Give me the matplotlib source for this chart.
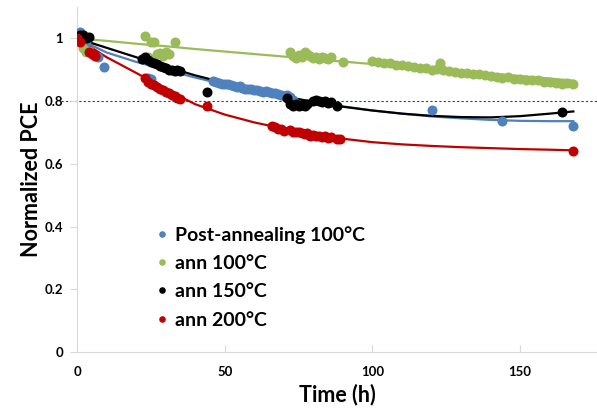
import numpy as np
import matplotlib
matplotlib.use('Agg')
import matplotlib.pyplot as plt

plt.rcParams['font.family'] = ['Lato', 'DejaVu Sans']
plt.rcParams['font.weight'] = 'bold'

# Post-annealing 100C
post_x = [0, 1, 2, 3, 7, 9, 24, 25, 46, 47, 48, 49, 50, 51, 52, 53, 54, 55, 56, 57, 58, 59,
          60, 61, 62, 63, 64, 65, 66, 67, 68, 69, 70, 71, 72, 73, 120, 144, 168]
post_y = [1.0, 1.02, 1.01, 0.99, 0.94, 0.91, 0.875, 0.87, 0.865, 0.86, 0.858, 0.855, 0.853,
          0.855, 0.85, 0.848, 0.845, 0.847, 0.842, 0.84, 0.838, 0.84, 0.835, 0.835, 0.832,
          0.83, 0.833, 0.828, 0.826, 0.825, 0.822, 0.82, 0.815, 0.818, 0.812, 0.805,
          0.773, 0.738, 0.722]

# ann 100C
a100_x = [0, 2, 3, 4, 23, 24, 25, 26, 27, 28, 29, 30, 31, 33,
          72, 73, 74, 75, 76, 77, 78, 79, 80, 81, 82, 83, 84, 85, 86, 90,
          100, 102, 104, 106, 108, 110, 112, 114, 116, 118, 120, 122, 123, 124, 126, 128,
          130, 132, 134, 136, 138, 140, 142, 144, 146, 148, 150, 152, 154, 156, 158, 160,
          162, 164, 166, 168]
a100_y = [1.0, 0.97, 0.955, 0.96, 1.007, 0.94, 0.99, 0.99, 0.95, 0.953, 0.945, 0.955, 0.95, 0.987,
          0.955, 0.945, 0.938, 0.948, 0.94, 0.955, 0.95, 0.945, 0.938, 0.942, 0.935, 0.94,
          0.938, 0.935, 0.94, 0.926,
          0.928, 0.925, 0.922, 0.92, 0.915, 0.915, 0.912, 0.908, 0.906, 0.905, 0.9, 0.902,
          0.92, 0.898, 0.895, 0.893, 0.89, 0.888, 0.885, 0.887, 0.882, 0.88, 0.878, 0.875,
          0.877, 0.872, 0.87, 0.868, 0.866, 0.868, 0.862, 0.86, 0.858, 0.855, 0.857, 0.855]

# ann 150C
a150_x = [0, 1, 2, 3, 4, 22, 23, 24, 25, 26, 27, 28, 29, 30, 31, 32, 33, 34, 35, 44,
          71, 72, 73, 74, 75, 76, 77, 78, 80, 81, 82, 83, 84, 85, 86, 88, 164]
a150_y = [1.0, 1.01, 1.01, 1.0, 1.005, 0.935, 0.94, 0.93, 0.925, 0.92, 0.918, 0.912, 0.91,
          0.905, 0.9, 0.9, 0.895, 0.9, 0.895, 0.83,
          0.81, 0.79, 0.785, 0.79, 0.785, 0.788, 0.785, 0.79, 0.8, 0.805, 0.8, 0.798, 0.8,
          0.795, 0.798, 0.785, 0.765]

# ann 200C
a200_x = [0, 1, 4, 5, 6, 23, 24, 25, 26, 27, 28, 29, 30, 31, 32, 33, 34, 35, 44,
          66, 67, 68, 69, 70, 72, 73, 74, 75, 76, 77, 78, 79, 80, 81, 82, 83, 84, 85, 86, 88, 89, 168]
a200_y = [1.0, 0.99, 0.955, 0.95, 0.945, 0.875, 0.86, 0.855, 0.85, 0.845, 0.84, 0.835, 0.83,
          0.825, 0.82, 0.815, 0.81, 0.808, 0.783,
          0.72, 0.718, 0.71, 0.712, 0.705, 0.708, 0.703, 0.7, 0.702, 0.698, 0.695, 0.697,
          0.69, 0.693, 0.688, 0.69, 0.685, 0.688, 0.683, 0.685, 0.68, 0.678, 0.642]

# trend lines
trend_x = [0, 10, 20, 30, 40, 50, 60, 70, 80, 90, 100, 110, 120, 130, 140, 150, 160, 168]
post_trend = [1.0, 0.955, 0.925, 0.9, 0.875, 0.853, 0.833, 0.815, 0.798, 0.783, 0.77, 0.76,
              0.751, 0.745, 0.74, 0.737, 0.736, 0.736]
a100_trend = [1.0, 0.992, 0.983, 0.975, 0.966, 0.958, 0.95, 0.942, 0.934, 0.926, 0.918, 0.91,
              0.903, 0.895, 0.888, 0.88, 0.872, 0.865]
a150_trend = [1.0, 0.97, 0.94, 0.91, 0.882, 0.858, 0.835, 0.815, 0.797, 0.782, 0.77, 0.76,
              0.753, 0.749, 0.748, 0.752, 0.76, 0.767]
a200_trend = [1.0, 0.94, 0.89, 0.838, 0.79, 0.757, 0.732, 0.712, 0.695, 0.68, 0.669, 0.662,
              0.657, 0.653, 0.65, 0.647, 0.645, 0.643]

c_blue = '#4F81BD'
c_green = '#9BBB59'
c_black = '#000000'
c_red = '#C00000'

fig = plt.figure(figsize=(5.97, 4.08), dpi=100)
ax = fig.add_axes([77/597, 1-352/408, 1-77/597, (352-7)/408])

ax.axhline(0.8, xmin=-0.03, xmax=1, color='#404040', ls=(0, (2, 2)), lw=0.8, clip_on=False, zorder=1)

series = [(post_x, post_y, post_trend, c_blue, 'Post-annealing 100°C'),
          (a100_x, a100_y, a100_trend, c_green, 'ann 100°C'),
          (a150_x, a150_y, a150_trend, c_black, 'ann 150°C'),
          (a200_x, a200_y, a200_trend, c_red, 'ann 200°C')]
for xs, ys, tr, col, lab in series:
    ax.plot(xs, ys, 'o', color=col, ms=6.2, label=lab, zorder=3)
    ax.plot(trend_x, tr, '-', color=col, lw=1.6, zorder=2)

ax.set_xlim(0, 176)
ax.set_ylim(0, 1.1)
ax.set_xticks([0, 50, 100, 150])
ax.set_yticks([0, 0.2, 0.4, 0.6, 0.8, 1.0])
ax.set_yticklabels(['0', '0.2', '0.4', '0.6', '0.8', '1'])
for s in ['top', 'right']:
    ax.spines[s].set_visible(False)
for s in ['left', 'bottom']:
    ax.spines[s].set_color('#D9D9D9')
ax.tick_params(axis='y', direction='out', length=5, color='#D9D9D9', labelsize=9.5, pad=5)
ax.tick_params(axis='x', direction='in', length=5, color='#D9D9D9', labelsize=9.5, pad=10)
for t in ax.get_xticklabels() + ax.get_yticklabels():
    t.set_fontweight('bold')

ax.set_xlabel('Time (h)', fontsize=15.5, fontweight='bold', labelpad=4)
ax.set_ylabel('Normalized PCE', fontsize=15.5, fontweight='bold', labelpad=2)

ax.legend(loc='upper left', bbox_to_anchor=(0.137, 0.388), frameon=False,
          markerscale=0.6, handlelength=0.6, handletextpad=0.4, labelspacing=0.58,
          borderpad=0.4, borderaxespad=0,
          prop={'weight': 'bold', 'size': 14})

fig.savefig('out.png', dpi=100)
